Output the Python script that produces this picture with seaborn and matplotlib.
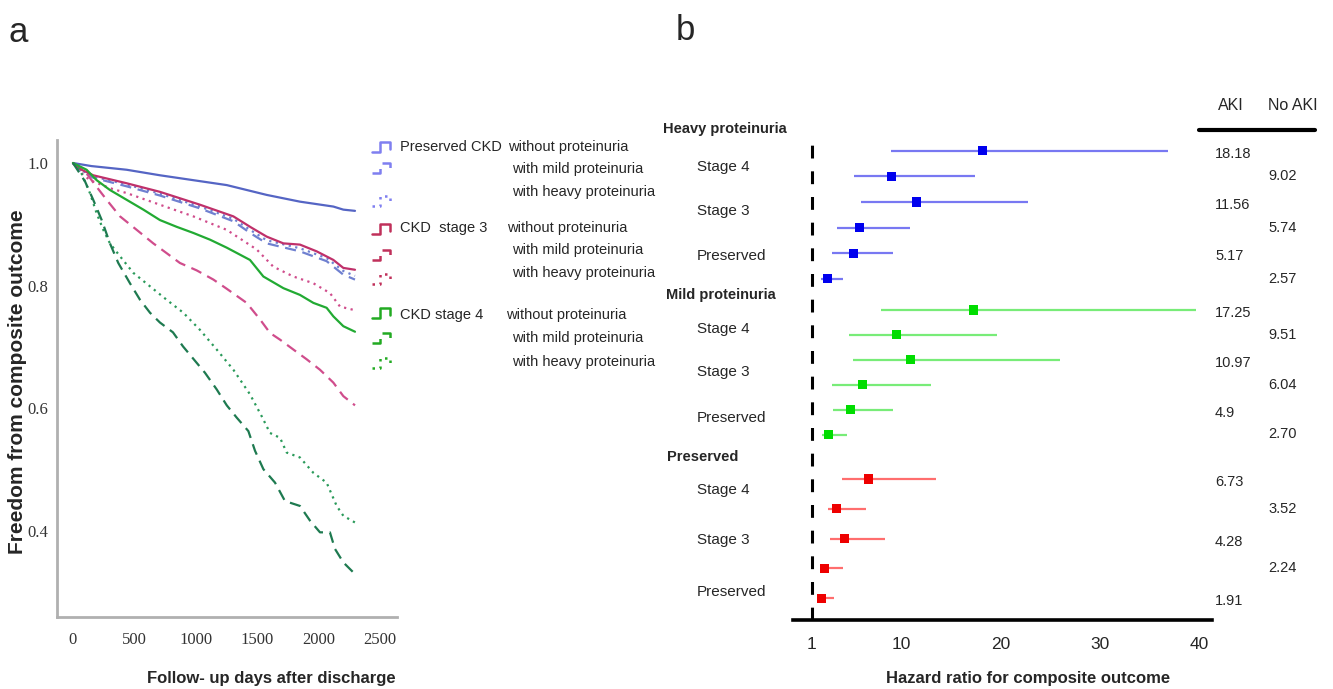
import matplotlib
matplotlib.use('Agg')
from matplotlib import pyplot as plt
from matplotlib import font_manager
from matplotlib.lines import Line2D
import seaborn as sns

W, H = 1333, 689

# ---- panel a: freedom from composite outcome
pres_none_days = [0, 150, 437, 708, 980, 1252, 1577, 1848, 2120, 2201, 2296]
pres_none_surv = [1.0, 0.995, 0.989, 0.980, 0.972, 0.964, 0.948, 0.937, 0.929, 0.924, 0.922]
pres_mild_days = [0, 60, 165, 437, 708, 1034, 1306, 1450, 1577, 1848, 2065, 2201, 2296]
pres_mild_surv = [1.0, 0.988, 0.976, 0.962, 0.947, 0.926, 0.905, 0.885, 0.869, 0.856, 0.840, 0.818, 0.810]
pres_heavy_days = [0, 60, 165, 437, 708, 1034, 1306, 1450, 1577, 1848, 2065, 2201, 2296]
pres_heavy_surv = [1.0, 0.989, 0.978, 0.965, 0.950, 0.929, 0.909, 0.890, 0.874, 0.861, 0.845, 0.824, 0.816]
s3_none_days = [0, 60, 165, 437, 708, 1034, 1306, 1450, 1577, 1713, 1848, 1984, 2120, 2201, 2296]
s3_none_surv = [1.0, 0.990, 0.980, 0.967, 0.953, 0.932, 0.913, 0.895, 0.880, 0.869, 0.867, 0.856, 0.842, 0.829, 0.826]
s3_mild_days = [0, 111, 193, 274, 383, 519, 654, 763, 871, 1007, 1143, 1252, 1414, 1523, 1604,
                1686, 1794, 1903, 2011, 2120, 2201, 2296]
s3_mild_surv = [1.0, 0.983, 0.961, 0.940, 0.913, 0.891, 0.869, 0.853, 0.837, 0.825, 0.810, 0.795, 0.772,
                0.745, 0.723, 0.712, 0.696, 0.680, 0.663, 0.642, 0.620, 0.605]
s3_heavy_days = [0, 60, 138, 301, 437, 708, 980, 1252, 1496, 1631, 1794, 1957, 2092, 2174, 2296]
s3_heavy_surv = [1.0, 0.985, 0.972, 0.959, 0.951, 0.932, 0.913, 0.891, 0.859, 0.831, 0.815, 0.804, 0.788, 0.766, 0.760]
s4_none_days = [0, 111, 193, 301, 437, 573, 708, 844, 980, 1116, 1252, 1441, 1550, 1713, 1848,
                1957, 2065, 2120, 2201, 2296]
s4_none_surv = [1.0, 0.989, 0.972, 0.956, 0.940, 0.924, 0.907, 0.896, 0.886, 0.875, 0.862, 0.842, 0.815,
                0.796, 0.785, 0.772, 0.764, 0.750, 0.734, 0.725]
s4_mild_days = [0, 98, 165, 234, 301, 369, 464, 546, 627, 708, 814, 896, 1075, 1170, 1252, 1333, 1428,
                1482, 1550, 1645, 1726, 1848, 1930, 2011, 2092, 2133, 2201, 2296]
s4_mild_surv = [1.0, 0.970, 0.940, 0.907, 0.869, 0.837, 0.804, 0.777, 0.756, 0.740, 0.724, 0.701, 0.658,
                0.631, 0.605, 0.585, 0.563, 0.531, 0.501, 0.479, 0.449, 0.441, 0.417, 0.398, 0.398,
                0.371, 0.349, 0.330]
s4_heavy_days = [0, 57, 138, 193, 247, 301, 383, 491, 627, 763, 898, 1034, 1170, 1306, 1441, 1537,
                 1604, 1686, 1740, 1848, 1957, 2065, 2147, 2201, 2296]
s4_heavy_surv = [1.0, 0.989, 0.951, 0.918, 0.891, 0.869, 0.848, 0.821, 0.799, 0.777, 0.756, 0.728, 0.696,
                 0.663, 0.623, 0.587, 0.560, 0.552, 0.528, 0.520, 0.495, 0.479, 0.441, 0.425, 0.414]

legend_groups = ['Preserved CKD', 'CKD  stage 3', 'CKD stage 4']
legend_subs = ['without proteinuria', 'with mild proteinuria', 'with heavy proteinuria']

# ---- panel b: hazard ratios (order: AKI st4, no AKI st4, AKI st3, no AKI st3, AKI pres, no AKI pres)
group_names = ['Heavy proteinuria', 'Mild proteinuria', 'Preserved']
heavy_hr = [18.18, 9.02, 11.56, 5.74, 5.17, 2.57]
heavy_lo = [9.0, 5.2, 5.9, 3.5, 3.0, 1.9]
heavy_hi = [36.8, 17.4, 22.8, 10.9, 9.2, 4.1]
heavy_txt = ['18.18', '9.02', '11.56', '5.74', '5.17', '2.57']
mild_hr = [17.25, 9.51, 10.97, 6.04, 4.9, 2.70]
mild_lo = [8.0, 4.7, 5.1, 3.0, 3.1, 2.0]
mild_hi = [39.7, 19.6, 26.0, 13.0, 9.2, 4.5]
mild_txt = ['17.25', '9.51', '10.97', '6.04', '4.9', '2.70']
pres_hr = [6.73, 3.52, 4.28, 2.24, 1.91]
pres_lo = [4.0, 2.6, 2.8, 1.8, 1.7]
pres_hi = [13.5, 6.4, 8.35, 4.1, 3.2]
pres_txt = ['6.73', '3.52', '4.28', '2.24', '1.91']
stage_names = ['Stage 4', 'Stage 3', 'Preserved']
hr_ticks = [1, 10, 20, 30, 40]


def fx(px):
    return px / W


def fy(py):
    return 1 - py / H


sns.set_style('white')
names = {f.name for f in font_manager.fontManager.ttflist}
narrow = 'Liberation Sans Narrow' if 'Liberation Sans Narrow' in names else 'Liberation Sans'
plt.rcParams['font.family'] = [narrow, 'DejaVu Sans']

fig = plt.figure(figsize=(W / 100, H / 100), dpi=100)

# ================= panel a =================
ax1 = fig.add_axes([fx(57), fy(617), fx(397) - fx(57), fy(140) - fy(617)])
BLUE, BLUE2 = '#5565c4', '#6f80d0'
MAG, MAG2 = '#c0306a', '#d04d8c'
GRN, GRN2, GRN3 = '#22aa33', '#2a9a5a', '#1e7a50'
DASH = (0, (5, 3))
DOT = (0, (1, 2))
curves = [
    (pres_none_days, pres_none_surv, BLUE, '-'),
    (pres_heavy_days, pres_heavy_surv, BLUE2, DOT),
    (pres_mild_days, pres_mild_surv, BLUE2, DASH),
    (s3_heavy_days, s3_heavy_surv, MAG2, DOT),
    (s3_mild_days, s3_mild_surv, MAG2, DASH),
    (s3_none_days, s3_none_surv, MAG, '-'),
    (s4_none_days, s4_none_surv, GRN, '-'),
    (s4_heavy_days, s4_heavy_surv, GRN2, DOT),
    (s4_mild_days, s4_mild_surv, GRN3, DASH),
]
for d, s, c, ls in curves:
    sns.lineplot(x=d, y=s, ax=ax1, color=c, linestyle=ls, lw=1.6,
                 estimator=None, sort=False, legend=False)

ax1.set_xlim(-130, 2638)
ax1.set_ylim(0.26, 1.0375)
ax1.set_xticks([0, 500, 1000, 1500, 2000, 2500])
ax1.set_yticks([0.4, 0.6, 0.8, 1.0])
ax1.set_yticklabels(['0.4', '0.6', '0.8', '1.0'])
for lab in ax1.get_xticklabels() + ax1.get_yticklabels():
    lab.set_family('Liberation Serif')
    lab.set_fontsize(12)
    lab.set_color('#333333')
ax1.tick_params(axis='both', length=4, width=1, color='#555555', direction='out')
ax1.tick_params(axis='x', pad=7)
ax1.tick_params(axis='y', pad=2)
for pos in ['right', 'top']:
    ax1.spines[pos].set_visible(False)
for pos in ['left', 'bottom']:
    ax1.spines[pos].set_color('#b0b0b0')
    ax1.spines[pos].set_linewidth(2)
ax1.set_xlabel('')
ax1.set_ylabel('')
fig.text(fx(18), fy(382), 'Freedom from composite outcome', rotation=90, ha='center', va='center',
         fontsize=15, weight='bold', family=['Liberation Sans', 'DejaVu Sans'])
fig.text(fx(271), fy(678), 'Follow- up days after discharge', ha='center', va='center',
         fontsize=12, weight='bold', family=['Liberation Sans', 'DejaVu Sans'])
fig.text(fx(8), fy(32), 'a', fontsize=25, ha='left', va='center', family=['Liberation Sans', 'DejaVu Sans'])
fig.text(fx(676), fy(30), 'b', fontsize=25, ha='left', va='center', family=['Liberation Sans', 'DejaVu Sans'])

# legend: step glyphs plus text
glyph_colors = ['#7f7ff0', '#c0305a', '#22aa22']
glyph_styles = ['-', DASH, DOT]
group_y = [147, 228, 315]
sub_y = [[147, 169, 192], [228, 250, 273], [315, 338, 362]]
glyph_y = [[147, 168, 201], [229, 255, 279], [313, 338, 363]]
sub_x = [[508, 512, 512], [507, 512, 512], [506, 512, 512]]
for g in range(3):
    fig.text(fx(400), fy(group_y[g]), legend_groups[g], fontsize=10.5, va='center', ha='left')
    for k in range(3):
        fig.text(fx(sub_x[g][k]), fy(sub_y[g][k]), legend_subs[k], fontsize=10.5, va='center', ha='left')
        yy = glyph_y[g][k]
        gx = [372, 380, 380, 390, 390]
        gy = [yy + 5, yy + 5, yy - 5, yy - 5, yy + 2]
        fig.add_artist(Line2D([fx(v) for v in gx], [fy(v) for v in gy], color=glyph_colors[g],
                              linestyle=glyph_styles[k], lw=1.8))

# ================= panel b =================
ax2 = fig.add_axes([fx(793), fy(620), fx(1212) - fx(793), fy(120) - fy(620)])
ax2.set_xlim(-0.91, 41.28)
ax2.set_ylim(620, 120)

group_top = [150.7, 310, 479]
group_step = [25.65, 24.9, 29.8]
line_cols = ['#7878f2', '#78ec78', '#ff6e6e']
mark_cols = ['#0000ee', '#00dd00', '#ee0000']
hrs = [heavy_hr, mild_hr, pres_hr]
los = [heavy_lo, mild_lo, pres_lo]
his = [heavy_hi, mild_hi, pres_hi]
txts = [heavy_txt, mild_txt, pres_txt]

for g in range(3):
    rows = [group_top[g] + i * group_step[g] for i in range(len(hrs[g]))]
    ax2.hlines(rows, los[g], his[g], color=line_cols[g], lw=1.6, zorder=2)
    sns.scatterplot(x=hrs[g], y=rows, ax=ax2, marker='s', s=42, color=mark_cols[g],
                    edgecolor='none', zorder=3, legend=False)
    for i, t in enumerate(txts[g]):
        if i % 2 == 0:
            fig.text(fx(1215), fy(rows[i] + 3), t, fontsize=10.5, ha='left', va='center')
        else:
            fig.text(fx(1268), fy(rows[i]), t, fontsize=10.5, ha='left', va='center')

ax2.axvline(1, ymin=0, ymax=(620 - 140) / 500, color='black', lw=2.2, linestyle=(0, (4.2, 4.2)), zorder=1)

ax2.set_xticks(hr_ticks)
ax2.set_xticklabels([str(t) for t in hr_ticks], fontsize=12.5)
ax2.set_yticks([])
ax2.tick_params(axis='x', length=8, width=2, color='black', direction='out', pad=4)
for pos in ['left', 'right', 'top']:
    ax2.spines[pos].set_visible(False)
ax2.spines['bottom'].set_linewidth(2.6)
ax2.spines['bottom'].set_color('black')
ax2.set_xlabel('')
ax2.set_ylabel('')
fig.text(fx(1028), fy(678), 'Hazard ratio for composite outcome', ha='center', va='center',
         fontsize=12, weight='bold')

# row labels
group_label_y = [129, 295, 457]
group_label_x = [663, 666, 667]
stage_label_y = [[167, 211, 256], [329, 372, 418], [490, 540, 592]]
for g in range(3):
    fig.text(fx(group_label_x[g]), fy(group_label_y[g]), group_names[g], fontsize=10.5,
             weight='bold', ha='left', va='center')
    for k in range(3):
        fig.text(fx(697), fy(stage_label_y[g][k]), stage_names[k], fontsize=11, ha='left', va='center')

# column header
fig.text(fx(1231), fy(105), 'AKI', fontsize=11.5, ha='center', va='center')
fig.text(fx(1293), fy(105), 'No AKI', fontsize=11.5, ha='center', va='center')
fig.add_artist(Line2D([fx(1199), fx(1315)], [fy(130), fy(130)], color='black', lw=3))

fig.savefig('out.png', dpi=100)
